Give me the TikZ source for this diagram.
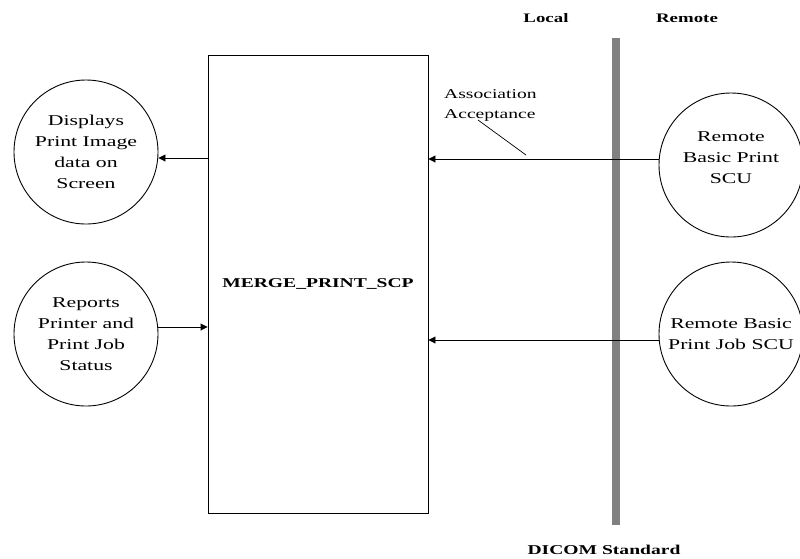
\documentclass[tikz,border=0pt]{standalone}
\usepackage{fontspec}
\setmainfont{Liberation Serif}[FakeStretch=1.45]
\usetikzlibrary{arrows.meta}
\tikzset{
  circ/.style={draw, circle, line width=0.9pt, minimum size=144pt, inner sep=0pt, align=center,
               font=\fontsize{15}{21}\selectfont},
  arr/.style={line width=0.9pt, -{Triangle[length=7pt,width=7pt]}},
  bold/.style={font=\fontsize{13}{16}\selectfont\bfseries},
}
\begin{document}
\begin{tikzpicture}[x=1pt,y=-1pt]
\useasboundingbox (0,0) rectangle (800,558);
\clip (0,0) rectangle (800,558);
% main box
\node[draw, line width=0.9pt, minimum width=220pt, minimum height=458pt, inner sep=0pt,
      font=\fontsize{13.5}{16}\selectfont\bfseries] (scp) at (318,284) {MERGE\_PRINT\_SCP};
% left circles
\node[circ] (disp) at (86,152) {Displays\\Print Image\\data on\\Screen};
\node[circ] (rep) at (86,334) {Reports\\Printer and\\Print Job\\Status};
% right circles
\node[circ] (rbp) at (731,165) {};
\node[align=center, font=\fontsize{15}{21}\selectfont] (rbptext) at (731,158) {Remote\\Basic Print\\SCU};
\node[circ] (rbpj) at (731,334) {Remote Basic\\Print Job SCU};
% DICOM boundary bar
\coordinate (bartop) at (616,38);
\coordinate (barbot) at (616,525);
\draw[line width=8pt, draw={rgb,255:red,128;green,128;blue,128}] (bartop) -- (barbot);
% labels
\node[bold] (local) at (546,18) {Local};
\node[bold] (remote) at (687,18) {Remote};
\node[font=\fontsize{13.5}{16}\selectfont\bfseries] (dicom) at (604,550) {DICOM Standard};
% connectors
\draw[arr] (scp.west |- 0,158) -- (disp.east |- 0,158);
\draw[arr] (rep.east |- 0,327) -- (scp.west |- 0,327);
\draw[arr] (rbp.west |- 0,159) -- (scp.east |- 0,159);
\draw[arr] (rbpj.west |- 0,340) -- (scp.east |- 0,340);
% association label
\node[anchor=west, align=left, inner sep=0pt, font=\fontsize{13.5}{20}\selectfont] (assoc) at (444,105) {Association\\Acceptance};
\coordinate (ptrA) at (478,120);
\coordinate (ptrB) at (526,155);
\draw[line width=0.7pt] (ptrA) -- (ptrB);
\end{tikzpicture}
\end{document}
